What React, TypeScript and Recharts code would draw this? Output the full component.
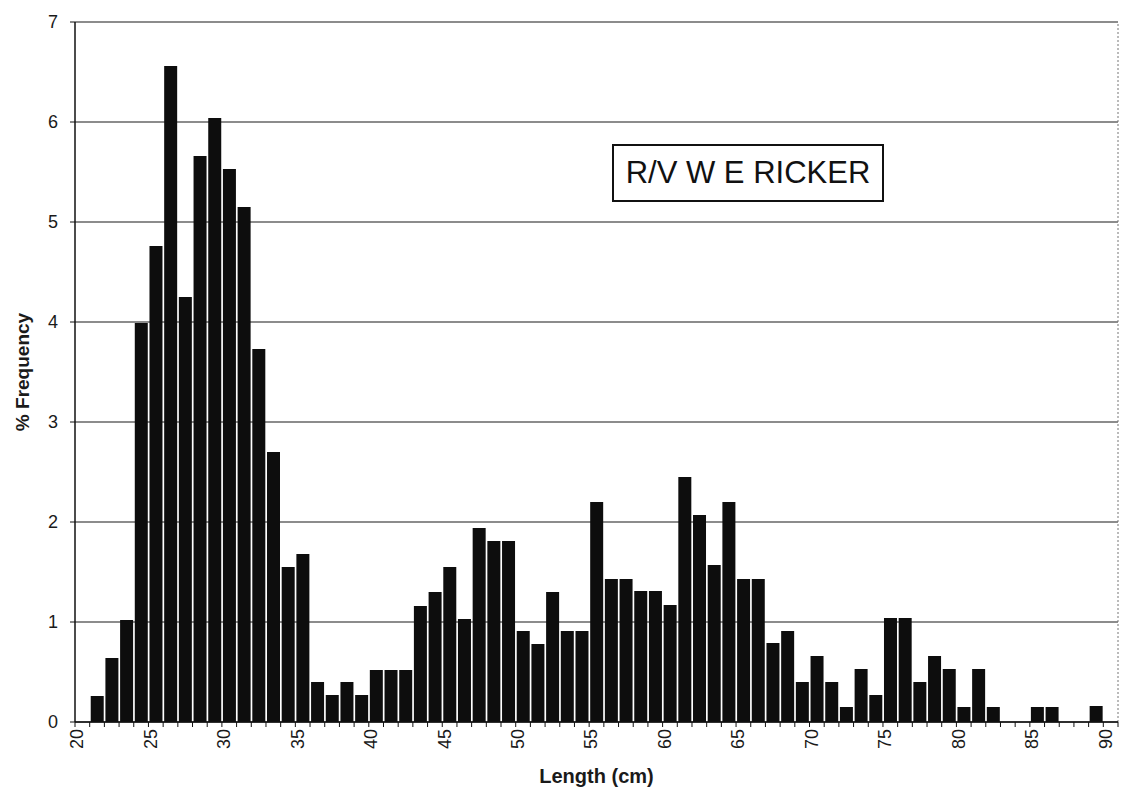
import React from 'react';
import { BarChart, Bar, XAxis, YAxis, CartesianGrid, ReferenceLine, Label } from 'recharts';

// Length bins (cm, lower edge of each 1 cm bin)
const lengths = [
  21, 22, 23, 24, 25, 26, 27, 28, 29, 30,
  31, 32, 33, 34, 35, 36, 37, 38, 39, 40,
  41, 42, 43, 44, 45, 46, 47, 48, 49, 50,
  51, 52, 53, 54, 55, 56, 57, 58, 59, 60,
  61, 62, 63, 64, 65, 66, 67, 68, 69, 70,
  71, 72, 73, 74, 75, 76, 77, 78, 79, 80,
  81, 82, 83, 84, 85, 86, 87, 88, 89,
];

// % frequency per bin
const frequency = [
  0.26, 0.64, 1.02, 3.99, 4.76, 6.56, 4.25, 5.66, 6.04, 5.53,
  5.15, 3.73, 2.7, 1.55, 1.68, 0.4, 0.27, 0.4, 0.27, 0.52,
  0.52, 0.52, 1.16, 1.3, 1.55, 1.03, 1.94, 1.81, 1.81, 0.91,
  0.78, 1.3, 0.91, 0.91, 2.2, 1.43, 1.43, 1.31, 1.31, 1.17,
  2.45, 2.07, 1.57, 2.2, 1.43, 1.43, 0.79, 0.91, 0.4, 0.66,
  0.4, 0.15, 0.53, 0.27, 1.04, 1.04, 0.4, 0.66, 0.53, 0.15,
  0.53, 0.15, 0, 0, 0.15, 0.15, 0, 0, 0.16,
];

const xTicks = [
  20, 21, 22, 23, 24, 25, 26, 27, 28, 29, 30, 31, 32, 33, 34, 35, 36, 37, 38, 39,
  40, 41, 42, 43, 44, 45, 46, 47, 48, 49, 50, 51, 52, 53, 54, 55, 56, 57, 58, 59,
  60, 61, 62, 63, 64, 65, 66, 67, 68, 69, 70, 71, 72, 73, 74, 75, 76, 77, 78, 79,
  80, 81, 82, 83, 84, 85, 86, 87, 88, 89, 90, 91,
];
const xLabelEvery = 5;
const yTicks = [0, 1, 2, 3, 4, 5, 6, 7];

const chartTitle = 'R/V W E RICKER';
const xTitle = 'Length (cm)';
const yTitle = '% Frequency';

// bars sit at the middle of each 1 cm bin
const data = lengths.map((len, i) => ({ mid: len + 0.5, freq: frequency[i] }));

const FONT = '"Liberation Sans", Arial, Helvetica, sans-serif';

const XTick = (props: any) => {
  const { x, y, payload } = props;
  const v = payload.value;
  if (v % xLabelEvery !== 0 || v > 90) return null;
  const tx = x + 2;
  return (
    <text
      x={tx}
      y={y}
      transform={`rotate(-90, ${tx}, ${y})`}
      textAnchor="end"
      dy="0.35em"
      fontSize={18}
      fontFamily={FONT}
      fill="#1a1a1a"
    >
      {v}
    </text>
  );
};

export default function App() {
  return (
    <div style={{ position: 'absolute', left: 0, top: 0, width: 1121, height: 790, background: '#fff' }}>
      <BarChart
        width={1121}
        height={790}
        data={data}
        margin={{ top: 22, right: 3, left: 0, bottom: 0 }}
        barCategoryGap="7%"
      >
        <CartesianGrid vertical={false} stroke="#1a1a1a" strokeWidth={1.2} />
        <XAxis
          type="number"
          dataKey="mid"
          domain={[20, 91]}
          ticks={xTicks}
          interval={0}
          allowDataOverflow
          height={68}
          tickSize={5}
          tickMargin={2}
          axisLine={{ stroke: '#111', strokeWidth: 1.5 }}
          tickLine={{ stroke: '#111' }}
          tick={<XTick />}
        >
          <Label
            content={(p: any) => {
              const vb = p.viewBox || { x: 75, y: 722, width: 1043, height: 68 };
              return (
                <text
                  x={vb.x + vb.width / 2}
                  y={783}
                  textAnchor="middle"
                  fontSize={20}
                  fontWeight="bold"
                  fontFamily={FONT}
                  fill="#1a1a1a"
                >
                  {xTitle}
                </text>
              );
            }}
          />
        </XAxis>
        <YAxis
          type="number"
          domain={[0, 7]}
          ticks={yTicks}
          interval={0}
          width={75}
          tickSize={5}
          tickMargin={12}
          axisLine={{ stroke: '#111', strokeWidth: 1.5 }}
          tickLine={{ stroke: '#111' }}
          tick={{ fontSize: 18, fontFamily: FONT, fill: '#1a1a1a' }}
        >
          <Label
            content={(p: any) => {
              const vb = p.viewBox || { x: 0, y: 22, width: 75, height: 700 };
              const cy = vb.y + vb.height / 2;
              return (
                <text
                  x={22}
                  y={cy}
                  transform={`rotate(-90, 22, ${cy})`}
                  textAnchor="middle"
                  dy="0.35em"
                  fontSize={19}
                  fontWeight="bold"
                  fontFamily={FONT}
                  fill="#1a1a1a"
                >
                  {yTitle}
                </text>
              );
            }}
          />
        </YAxis>
        <ReferenceLine x={91} stroke="#777" strokeDasharray="2 2" />
        <Bar dataKey="freq" fill="#0d0d0d" isAnimationActive={false} />
      </BarChart>
      <div
        style={{
          position: 'absolute',
          left: 612,
          top: 144,
          width: 272,
          height: 58,
          boxSizing: 'border-box',
          border: '2px solid #111',
          background: '#fff',
          display: 'flex',
          alignItems: 'center',
          justifyContent: 'center',
          fontFamily: FONT,
          fontSize: 31,
          color: '#111',
          letterSpacing: 0,
          whiteSpace: 'nowrap',
        }}
      >
        {chartTitle}
      </div>
    </div>
  );
}
